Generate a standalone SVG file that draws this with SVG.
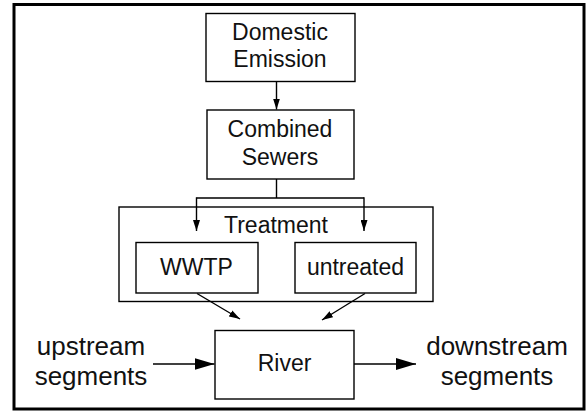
<svg xmlns="http://www.w3.org/2000/svg" width="586" height="414" viewBox="0 0 586 414">
<style>
.box{fill:#fff;stroke:#000;stroke-width:1.4}
.lbl{font-family:"Liberation Sans",Arial,sans-serif;font-size:23px;fill:#111;text-anchor:middle}
.big{font-size:26px}
.ln{fill:none;stroke:#000;stroke-width:1.4}
</style>
<defs>
<marker id="ah" viewBox="0 0 12 8" refX="12" refY="4" markerWidth="11" markerHeight="7" markerUnits="userSpaceOnUse" orient="auto" preserveAspectRatio="none"><path d="M0,0 L12,4 L0,8 Z" fill="#000"/></marker>
<marker id="ahb" viewBox="0 0 20 12" refX="20" refY="6" markerWidth="20" markerHeight="12" markerUnits="userSpaceOnUse" orient="auto" preserveAspectRatio="none"><path d="M0,0 L20,6 L0,12 Z" fill="#000"/></marker>
</defs>
<rect x="0" y="0" width="586" height="414" fill="#fff"/>
<rect id="frame" x="14" y="4.5" width="570" height="404.5" fill="none" stroke="#000" stroke-width="3"/>
<g id="domestic"><rect class="box" x="206" y="13.5" width="149" height="68"/><text class="lbl" x="280" y="40">Domestic</text><text class="lbl" x="280" y="67">Emission</text></g>
<g id="sewers"><rect class="box" x="207" y="110" width="147" height="69"/><text class="lbl" x="280" y="137">Combined</text><text class="lbl" x="280" y="165">Sewers</text></g>
<g id="treatment"><rect class="box" x="119" y="207" width="314" height="94.5"/><text class="lbl" x="276" y="233">Treatment</text></g>
<g id="wwtp"><rect class="box" x="136" y="242.5" width="122" height="50.5"/><text class="lbl" x="196.5" y="275">WWTP</text></g>
<g id="untreated"><rect class="box" x="295" y="242.5" width="121" height="50.5"/><text class="lbl" x="355.5" y="275">untreated</text></g>
<g id="river"><rect class="box" x="215" y="330.5" width="139" height="68.5"/><text class="lbl" x="284.5" y="371">River</text></g>
<g id="upstream"><text class="lbl big" x="91" y="355">upstream</text><text class="lbl big" x="91" y="385">segments</text></g>
<g id="downstream"><text class="lbl big" x="497" y="355">downstream</text><text class="lbl big" x="497" y="385">segments</text></g>
<g id="connectors">
<line class="ln" x1="276.5" y1="81.5" x2="276.5" y2="109.5" marker-end="url(#ah)"/>
<path class="ln" d="M276.5,179 V198 M196.5,198 H364"/>
<line class="ln" x1="196.5" y1="197.3" x2="196.5" y2="231" marker-end="url(#ah)"/>
<line class="ln" x1="364" y1="197.3" x2="364" y2="231" marker-end="url(#ah)"/>
<line class="ln" x1="197" y1="293.5" x2="240" y2="319" marker-end="url(#ah)"/>
<line class="ln" x1="365" y1="293.5" x2="322" y2="320" marker-end="url(#ah)"/>
<line class="ln" x1="153" y1="364" x2="214.5" y2="364" marker-end="url(#ahb)"/>
<line class="ln" x1="354" y1="364" x2="416" y2="364" marker-end="url(#ahb)"/>
</g>
</svg>
